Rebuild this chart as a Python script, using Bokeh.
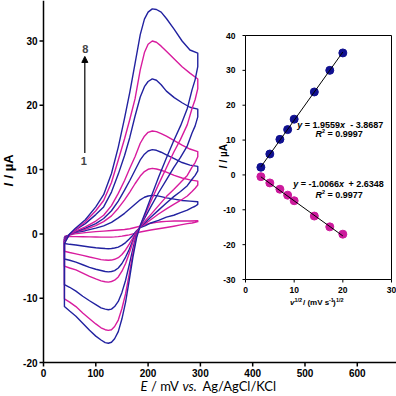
import numpy as np
from bokeh.plotting import figure
from bokeh.models import Range1d, Label, Arrow, NormalHead
from bokeh.embed import file_html
from bokeh.resources import INLINE
from bokeh.core.properties import value

# ---------------- main CV data (E in mV, I in uA) ----------------
E_fwd = [40, 50, 60, 80, 100, 115, 130, 143, 155, 165, 175, 185, 193, 200, 208, 216, 225, 235, 250, 265, 280, 295]
E_rev = [295, 290, 284, 275, 262, 249, 235, 220, 205, 195, 185, 178, 171, 164, 157, 150, 143, 136, 130, 124,
         118, 110, 100, 88, 75, 62, 50, 40]

c1_fwd = [-0.4, -0.2, 0.0, 0.2, 0.35, 0.43, 0.52, 0.6, 0.68, 0.8, 1.0, 1.2, 1.4, 1.55, 1.7, 1.8, 1.88, 1.95, 2.0, 2.0, 2.0, 2.05]
c2_fwd = [-0.5, -0.1, 0.2, 0.5, 0.9, 1.25, 1.8, 2.5, 3.2, 3.9, 4.6, 5.3, 5.7, 5.9, 6.0, 5.95, 5.8, 5.6, 5.4, 5.2, 5.1, 5.0]
c3_fwd = [-0.7, -0.1, 0.25, 0.7, 1.3, 1.9, 2.8, 4.0, 5.3, 6.5, 7.8, 9.0, 9.7, 10.05, 10.2, 10.1, 9.9, 9.6, 9.1, 8.7, 8.4, 8.2]
c4_fwd = [-0.8, -0.1, 0.3, 0.9, 1.6, 2.4, 3.6, 5.1, 6.8, 8.3, 9.9, 11.5, 12.4, 12.9, 13.1, 13.0, 12.7, 12.3, 11.7, 11.1, 10.7, 10.5]
c5_fwd = [-0.9, -0.1, 0.4, 1.1, 2.0, 2.9, 4.4, 6.3, 8.3, 10.2, 12.0, 14.1, 15.2, 15.8, 16.0, 15.9, 15.6, 15.2, 14.5, 13.8, 13.2, 12.8]
c6_fwd = [-1.1, -0.1, 0.6, 1.6, 3.0, 4.2, 6.5, 9.3, 12.2, 15.0, 18.3, 21.3, 22.9, 23.7, 24.1, 23.9, 23.2, 22.2, 21.2, 20.4, 19.7, 19.4]
c7_fwd = [-1.3, -0.1, 0.6, 1.9, 3.6, 5.2, 8.0, 11.5, 14.8, 17.8, 21.0, 25.5, 28.2, 29.5, 30.0, 29.8, 29.2, 28.4, 27.2, 26.0, 25.0, 24.1]
c8_fwd = [-1.5, 0.0, 0.8, 2.2, 4.2, 6.1, 9.4, 13.5, 18.0, 22.0, 26.5, 31.0, 33.4, 34.5, 35.0, 34.9, 34.5, 33.5, 31.8, 30.0, 28.6, 28.1]

c1_rev = [1.9, 1.8, 1.7, 1.6, 1.4, 1.2, 1.0, 0.8, 0.6, 0.45, 0.3, 0.15, 0.0, -0.15, -0.25, -0.35, -0.42, -0.47, -0.5, -0.5,
          -0.5, -0.5, -0.48, -0.46, -0.44, -0.42, -0.41, -0.4]
c2_rev = [4.6, 4.3, 4.1, 3.7, 3.3, 2.9, 2.6, 2.1, 1.7, 1.3, 1.0, 0.5, -0.2, -0.8, -1.35, -1.75, -2.05, -2.2, -2.28, -2.3,
          -2.28, -2.23, -2.15, -2.03, -1.88, -1.73, -1.62, -1.5]
c3_rev = [7.6, 7.1, 6.6, 5.9, 5.2, 4.6, 3.9, 3.1, 2.2, 1.6, 1.1, 0.4, -0.6, -1.6, -2.5, -3.2, -3.7, -3.95, -4.07, -4.1,
          -4.07, -4.0, -3.8, -3.6, -3.35, -3.1, -2.9, -2.7]
c4_rev = [9.8, 9.1, 8.5, 7.5, 6.6, 5.8, 4.8, 3.7, 2.6, 1.8, 1.1, 0.3, -1.0, -2.4, -3.6, -4.6, -5.3, -5.7, -5.85, -5.9,
          -5.85, -5.7, -5.5, -5.2, -4.8, -4.4, -4.1, -3.9]
c5_rev = [12.0, 11.1, 10.4, 9.1, 8.0, 6.9, 5.8, 4.4, 3.0, 2.1, 1.1, 0.2, -1.3, -3.0, -4.6, -5.8, -6.7, -7.2, -7.4, -7.5,
          -7.45, -7.3, -7.0, -6.6, -6.1, -5.6, -5.3, -5.0]
c6_rev = [18.2, 16.8, 15.7, 13.7, 11.9, 10.3, 8.4, 6.4, 4.2, 2.7, 1.2, -0.1, -2.3, -4.8, -7.2, -9.1, -10.5, -11.3, -11.7, -11.8,
          -11.7, -11.5, -11.0, -10.4, -9.7, -8.9, -8.3, -7.9]
c7_rev = [22.6, 20.9, 19.5, 17.0, 14.7, 12.7, 10.3, 7.7, 5.0, 3.1, 1.3, -0.3, -3.0, -6.2, -9.3, -11.6, -13.4, -14.4, -14.9, -15.0,
          -14.9, -14.6, -14.0, -13.2, -12.3, -11.3, -10.6, -10.1]
c8_rev = [26.0, 24.0, 22.4, 19.5, 16.8, 14.5, 11.8, 8.8, 5.6, 3.4, 1.3, -0.6, -3.6, -7.2, -10.6, -13.2, -15.2, -16.3, -16.85, -17.0,
          -16.9, -16.5, -15.9, -15.0, -13.9, -12.8, -12.0, -11.3]

E_ticks = [0, 100, 200, 300, 400, 500, 600]
I_ticks = [-20, -10, 0, 10, 20, 30]

# ---------------- inset data ----------------
v_sqrt = [3.16, 5.0, 7.07, 8.66, 10.0, 14.14, 17.32, 20.0]
Ipa = [2.2, 6.0, 10.2, 13.0, 16.0, 23.8, 30.0, 35.0]
Ipc = [-0.5, -2.3, -4.1, -5.8, -7.4, -11.8, -14.9, -17.0]
fit_pa = [1.9559, -3.8687]
fit_pc = [-1.0066, 2.6348]
inset_x_ticks = [0, 10, 20, 30]
inset_y_ticks = [-30, -20, -10, 0, 10, 20, 30, 40]

BLUE = "#2222A0"
MAG = "#D81C9E"
PT_BLUE = "#101090"
PT_MAG = "#CC1A9C"
FONT = "Liberation Sans"

W = H = 396
# main plot mapping: E=0 at px 43, 100 mV = 52.3 px; I=-20 at py 362, 10 uA = 64.3 px
MX0, MXS = 43, 353 / 675
MY0, MYS = 362, 362 / 56.3
x_range = Range1d(-MX0 / MXS, (W - MX0) / MXS)
y_range = Range1d(I_ticks[0] - (H - MY0) / MYS, I_ticks[0] + MY0 / MYS)
# inset mapping: x=0 at px 245, 10 units = 48.67 px; y=40 at py 35, 10 units = 34.86 px
IX0, IXS = 245, 146 / 30
IY0, IYS = 35, 244 / 70
ix_range = Range1d(-IX0 / IXS, (W - IX0) / IXS)
iy_range = Range1d(40 - (H - IY0) / IYS, 40 + IY0 / IYS)

def px_x(px):
    return x_range.start + px / W * (x_range.end - x_range.start)

def px_y(py):
    return y_range.end - py / H * (y_range.end - y_range.start)

p = figure(width=W, height=H, output_backend="svg", toolbar_location=None,
           x_range=x_range, y_range=y_range, x_axis_location=None, y_axis_location=None,
           min_border=0, min_border_left=0, min_border_right=0, min_border_top=0, min_border_bottom=0)
p.extra_x_ranges = {"ix": ix_range}
p.extra_y_ranges = {"iy": iy_range}
p.grid.visible = False
p.outline_line_color = None
p.background_fill_color = "white"
p.border_fill_color = "white"

# ---------------- main axes (drawn) ----------------
p.segment(x0=[E_ticks[0]], y0=[I_ticks[0]], x1=[E_ticks[0]], y1=[y_range.end], line_color="black", line_width=1.5)
p.segment(x0=[E_ticks[0]], y0=[I_ticks[0]], x1=[x_range.end], y1=[I_ticks[0]], line_color="black", line_width=1.5)
p.segment(x0=[E_ticks[0]] * len(I_ticks), y0=I_ticks, x1=[E_ticks[0] - 4 / MXS] * len(I_ticks), y1=I_ticks,
          line_color="black", line_width=1.5)
p.segment(x0=E_ticks, y0=[I_ticks[0]] * len(E_ticks), x1=E_ticks, y1=[I_ticks[0] - 4 / MYS] * len(E_ticks),
          line_color="black", line_width=1.5)
p.text(x=[E_ticks[0]] * len(I_ticks), y=I_ticks, text=[str(t) for t in I_ticks],
       text_font=value(FONT), text_font_style="bold", text_font_size=value("10px"),
       text_align="right", text_baseline="middle", x_offset=-6, text_color="black")
p.text(x=E_ticks, y=[I_ticks[0]] * len(E_ticks), text=[str(t) for t in E_ticks],
       text_font=value(FONT), text_font_style="bold", text_font_size=value("10px"),
       text_align="center", text_baseline="top", y_offset=6, text_color="black")

# ---------------- CV curves ----------------
curves = [(c1_fwd, c1_rev, MAG), (c2_fwd, c2_rev, BLUE), (c3_fwd, c3_rev, MAG), (c4_fwd, c4_rev, BLUE),
          (c5_fwd, c5_rev, MAG), (c6_fwd, c6_rev, BLUE), (c7_fwd, c7_rev, MAG), (c8_fwd, c8_rev, BLUE)]
for fwd, rev, col in curves:
    xs = E_fwd + E_rev + [E_fwd[0]]
    ys = fwd + rev + [fwd[0]]
    p.line(xs, ys, line_color=col, line_width=1.4, line_join="round")

# arrow 1 -> 8
p.add_layout(Arrow(x_start=79, y_start=12.6, x_end=79, y_end=27.6,
                   end=NormalHead(size=6, fill_color="black", line_color="black"),
                   line_color="black", line_width=1.2))
for txt, xx, yy in [("8", 80, 28.8), ("1", 77, 11.3)]:
    p.add_layout(Label(x=xx, y=yy, text=txt, text_font=FONT, text_font_style="bold",
                       text_font_size="11px", text_align="center", text_baseline="middle"))

def lab(text, px, py, size, style="normal", font=FONT, angle=0, align="left", baseline="middle"):
    p.add_layout(Label(x=px_x(px), y=px_y(py), text=text, text_font=font, text_font_style=style,
                       text_font_size=size, angle=angle, text_align=align, text_baseline=baseline,
                       text_color="black"))

# main axis titles
lab("E", 140, 385, "13px", "italic", "Lato")
lab("/ mV", 150.5, 385, "13px", "normal", "Lato")
lab("vs.", 182, 385, "13px", "italic", "Lato")
lab("Ag/AgCl/KCl", 202, 385, "13px", "normal", "Lato")

lab("I", 8, 186, "13px", "bold italic", angle=np.pi / 2)
lab("/ µA", 8, 178, "13px", "bold", angle=np.pi / 2)

# ---------------- inset ----------------
IX = dict(x_range_name="ix", y_range_name="iy")
p.quad(left=inset_x_ticks[0], right=inset_x_ticks[-1], bottom=inset_y_ticks[0], top=inset_y_ticks[-1],
       fill_color=None, line_color="black", line_width=1, **IX)
p.segment(x0=[inset_x_ticks[0]] * len(inset_y_ticks), y0=inset_y_ticks,
          x1=[inset_x_ticks[0] - 3 / IXS] * len(inset_y_ticks), y1=inset_y_ticks,
          line_color="black", line_width=1, **IX)
p.segment(x0=inset_x_ticks, y0=[inset_y_ticks[0]] * len(inset_x_ticks),
          x1=inset_x_ticks, y1=[inset_y_ticks[0] - 3 / IYS] * len(inset_x_ticks),
          line_color="black", line_width=1, **IX)
p.text(x=[inset_x_ticks[0]] * len(inset_y_ticks), y=inset_y_ticks, text=[str(t) for t in inset_y_ticks],
       text_font=value(FONT), text_font_style="bold", text_font_size=value("8.5px"),
       text_align="right", text_baseline="middle", x_offset=-10, text_color="black", **IX)
p.text(x=inset_x_ticks, y=[inset_y_ticks[0]] * len(inset_x_ticks), text=[str(t) for t in inset_x_ticks],
       text_font=value(FONT), text_font_style="bold", text_font_size=value("8.5px"),
       text_align="center", text_baseline="middle", y_offset=10, text_color="black", **IX)

p.scatter(v_sqrt, Ipa, size=8, fill_color=PT_BLUE, line_color=PT_BLUE, **IX)
p.scatter(v_sqrt, Ipc, size=8, fill_color=PT_MAG, line_color=PT_MAG, **IX)
xfit = [min(v_sqrt), max(v_sqrt)]
p.line(xfit, [fit_pa[0] * x + fit_pa[1] for x in xfit], line_color="black", line_width=1, **IX)
p.line(xfit, [fit_pc[0] * x + fit_pc[1] for x in xfit], line_color="black", line_width=1, **IX)

# equations (pieces placed side by side; widths for 9px bold)
def eq(mid_txt, const_txt, r2_txt, px, py, xpos, cpos, rpx, rpy):
    lab("y", px, py, "9px", "bold italic")
    lab(mid_txt, px + 7.5, py, "9px", "bold")
    lab("x", px + xpos, py, "9px", "bold italic")
    lab(const_txt, px + cpos, py, "9px", "bold")
    lab("R", rpx, rpy, "9px", "bold italic")
    lab("2", rpx + 6.5, rpy - 3, "5.5px", "bold")
    lab("= " + r2_txt, rpx + 12, rpy, "9px", "bold")

eq("= 1.9559", "- 3.8687", "0.9997", 296.7, 124, 42.8, 53.0, 315, 133.5)
eq("= -1.0066", "+ 2.6348", "0.9977", 292.7, 183.3, 45.8, 55.3, 315, 194)

# inset axis titles
lab("I", 222.5, 168, "10px", "bold italic", angle=np.pi / 2)
lab("/ µA", 222.5, 162, "10px", "bold", angle=np.pi / 2)

lab("v", 289.5, 302, "8px", "bold italic")
lab("1/2", 294, 299, "5.5px", "bold")
lab("/ (mV s", 302.5, 302, "8px", "bold")
lab("-1", 328.5, 299, "5.5px", "bold")
lab(")", 332.5, 302, "8px", "bold")
lab("1/2", 335.5, 299, "5.5px", "bold")

open("out.html", "w").write(file_html(p, INLINE))
